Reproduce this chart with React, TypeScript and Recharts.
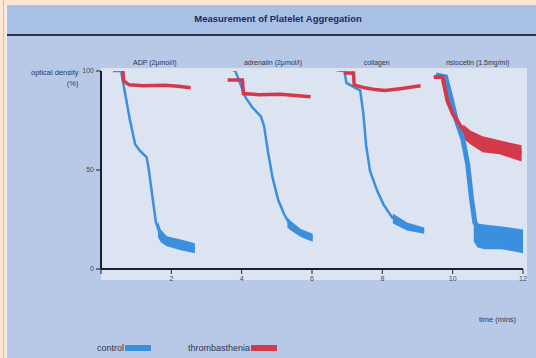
import React from 'react';
import { ComposedChart, Line, Area, XAxis, YAxis, Legend } from 'recharts';

// time (mins), optical density (%)
const adpControl = [
  [0.34, 100], [0.57, 100], [0.65, 92], [0.82, 75.5], [0.97, 63], [1.11, 59.6],
  [1.3, 56.4], [1.36, 50], [1.47, 35.6], [1.56, 23.6], [1.68, 17.5], [1.87, 14],
  [2.24, 12.3], [2.67, 10.5],
];
const adpThromb = [
  [0.38, 101], [0.62, 101], [0.64, 95], [0.8, 93], [1.2, 92.5], [1.8, 92.8], [2.2, 92.3], [2.55, 91.5],
];
const adrenalinControl = [
  [3.68, 101], [3.82, 100], [3.95, 94], [4.11, 86.6], [4.3, 81.7], [4.55, 77], [4.64, 72],
  [4.75, 59], [4.88, 46], [5.04, 34.8], [5.21, 27.5], [5.4, 21.8], [5.68, 18.2], [6.02, 15.7],
];
const adrenalinThromb = [
  [3.6, 95.5], [4.02, 95.5], [4.05, 88.6], [4.5, 88], [5.1, 88.3], [5.96, 87],
];
const collagenControl = [
  [6.7, 100.4], [6.92, 100], [6.98, 94], [7.18, 92], [7.37, 90.2], [7.46, 78.5], [7.54, 62.3],
  [7.65, 49.5], [7.85, 39.6], [8.04, 32.4], [8.28, 26], [8.66, 22.1], [9.19, 19.4],
];
const collagenThromb = [
  [6.91, 99], [7.18, 99], [7.2, 93], [7.5, 91.5], [7.8, 90.6], [8.08, 90.2], [8.56, 91.2], [9.09, 92.5],
];
const ristocetinControl = [
  [9.52, 98], [9.8, 97], [9.95, 86.6], [10.1, 75.3], [10.29, 65.6], [10.43, 52.6], [10.53, 36.5],
  [10.63, 23.5], [10.85, 17], [11.44, 16], [12, 14],
];
const ristocetinThromb = [
  [9.46, 97], [9.71, 97], [9.85, 85], [10.0, 78.5], [10.23, 72], [10.48, 66.5], [10.85, 63],
  [11.33, 61.5], [11.96, 58.5],
];

// noisy tails: time, low, high
const adpControlBand = [[1.62, 16, 24], [1.7, 13.5, 20], [1.87, 11.5, 16.5], [2.24, 9.6, 15], [2.67, 8, 13]];
const adrenalinControlBand = [[5.3, 21, 26], [5.4, 19.4, 24.2], [5.68, 16.2, 20.2], [6.02, 13.7, 17.8]];
const collagenControlBand = [[8.3, 23, 28], [8.7, 19.5, 23.5], [9.19, 17.8, 21]];
const ristocetinControlBand = [[10.6, 14, 26], [10.7, 11, 23], [10.9, 10, 22.5], [11.4, 10, 21.5], [12, 8, 20]];
const ristocetinThrombBand = [[10.3, 66, 73], [10.5, 63, 70], [10.85, 59, 67], [11.33, 58, 65], [11.96, 54.3, 62.5]];

const segmentLabels = ['ADP (2μmol/l)', 'adrenalin (2μmol/l)', 'collagen', 'ristocetin (1.5mg/ml)'];
const segmentCentres = [1.53, 4.89, 7.84, 10.71];
const xTicks = [0, 2, 4, 6, 8, 10, 12];
const yTicks = [0, 50, 100];
const legendNames = ['control', 'thrombasthenia'];

const BLUE = '#3b8fdd';
const RED = '#d23a4b';
const AXIS = '#1b2030';
const FONT = '"Liberation Sans", Arial, sans-serif';

const pts = (a: number[][]) => a.map(([t, v]) => ({ t, v }));
const band = (a: number[][]) => a.map(([t, lo, hi]) => ({ t, range: [lo, hi] }));

const controls = [adpControl, adrenalinControl, collagenControl, ristocetinControl];
const thrombs = [adpThromb, adrenalinThromb, collagenThromb, ristocetinThromb];
const controlBands = [adpControlBand, adrenalinControlBand, collagenControlBand, ristocetinControlBand];
const thrombBands = [ristocetinThrombBand];

export default function App() {
  return (
    <div style={{ position: 'absolute', left: 0, top: 0, width: 536, height: 358, background: '#fde6d3', fontFamily: FONT, overflow: 'hidden' }}>
      <div style={{ position: 'absolute', left: 3, top: 0, width: 1, height: 358, background: '#f6b48c' }} />
      <div style={{ position: 'absolute', left: 6, top: 5, right: 0, bottom: 0, background: '#b8c9e7', borderLeft: '1px solid #f4f4f8' }} />
      <div style={{ position: 'absolute', left: 7, top: 5, right: 0, height: 29, background: '#a9c0e6', borderBottom: '2px solid #27324f' }} />
      <div style={{ position: 'absolute', left: 278, top: 13, transform: 'translateX(-50%)', whiteSpace: 'nowrap', fontSize: 9.5, fontWeight: 'bold', color: '#1f2b5c' }}>
        Measurement of Platelet Aggregation
      </div>
      <div style={{ position: 'absolute', left: 101, top: 68, width: 426, height: 212, background: '#dce3f1' }} />
      <div style={{ position: 'absolute', left: 31, top: 67, fontSize: 7.5, color: '#2f3550', textAlign: 'right', lineHeight: '11px' }}>
        optical density<br />(%)
      </div>
      <div style={{ position: 'absolute', left: 479, top: 315, fontSize: 7.5, color: '#2f3550' }}>time (mins)</div>

      <div style={{ position: 'absolute', left: 0, top: 0 }}>
        <ComposedChart width={536} height={358} margin={{ top: 59, right: 13, bottom: 59, left: 0 }}>
          <XAxis
            xAxisId="b"
            dataKey="t"
            type="number"
            domain={[0, 12]}
            ticks={xTicks}
            allowDataOverflow
            height={20}
            tickSize={5}
            tickFormatter={(v: number) => (v === 0 ? '' : String(v))}
            axisLine={{ stroke: AXIS, strokeWidth: 2 }}
            tickLine={{ stroke: AXIS, strokeWidth: 1 }}
            tick={{ fill: '#454b5e', fontSize: 7 }}
          />
          <XAxis
            xAxisId="top"
            dataKey="t"
            orientation="top"
            type="number"
            domain={[0, 12]}
            ticks={segmentCentres}
            allowDataOverflow
            height={12}
            tickSize={0}
            tickMargin={6}
            axisLine={false}
            tickLine={false}
            interval={0}
            tickFormatter={(v: number) => segmentLabels[segmentCentres.indexOf(v)] ?? ''}
            tick={{ fill: '#2f3550', fontSize: 7 }}
          />
          <YAxis
            yAxisId="l"
            type="number"
            domain={[0, 100]}
            ticks={yTicks}
            allowDataOverflow
            width={101}
            tickSize={5}
            axisLine={{ stroke: AXIS, strokeWidth: 2 }}
            tickLine={{ stroke: AXIS, strokeWidth: 1 }}
            tick={{ fill: '#454b5e', fontSize: 7 }}
          />
          {/* carries the segment captions on the top axis */}
          <Line xAxisId="top" yAxisId="l" data={segmentCentres.map((t) => ({ t, v: null }))} dataKey="v"
            stroke="none" dot={false} legendType="none" isAnimationActive={false} />
          {controlBands.map((b, i) => (
            <Area key={'cb' + i} xAxisId="b" yAxisId="l" data={band(b)} dataKey="range" type="linear"
              stroke="none" fill={BLUE} fillOpacity={1} isAnimationActive={false} />
          ))}
          {controls.map((c, i) => (
            <Line key={'c' + i} xAxisId="b" yAxisId="l" data={pts(c)} dataKey="v" type="linear"
              stroke={BLUE} strokeWidth={i === 3 ? 5 : 2.5} dot={false} isAnimationActive={false} />
          ))}
          {thrombBands.map((b, i) => (
            <Area key={'tb' + i} xAxisId="b" yAxisId="l" data={band(b)} dataKey="range" type="linear"
              stroke="none" fill={RED} fillOpacity={1} isAnimationActive={false} />
          ))}
          {thrombs.map((c, i) => (
            <Line key={'t' + i} xAxisId="b" yAxisId="l" data={pts(c)} dataKey="v" type="linear"
              stroke={RED} strokeWidth={i === 3 ? 4 : 3.5} dot={false} isAnimationActive={false} />
          ))}
          <Legend
            wrapperStyle={{ position: 'absolute', left: 97, top: 343, width: 300 }}
            content={() => (
              <div style={{ display: 'flex', fontSize: 9, color: '#2f3550' }}>
                {legendNames.map((n, i) => (
                  <div key={n} style={{ display: 'flex', alignItems: 'center', marginRight: 37 }}>
                    <span>{n}</span>
                    <span style={{ display: 'inline-block', width: 26, height: 6, marginLeft: 1, background: i === 0 ? BLUE : RED }} />
                  </div>
                ))}
              </div>
            )}
          />
        </ComposedChart>
      </div>
    </div>
  );
}
